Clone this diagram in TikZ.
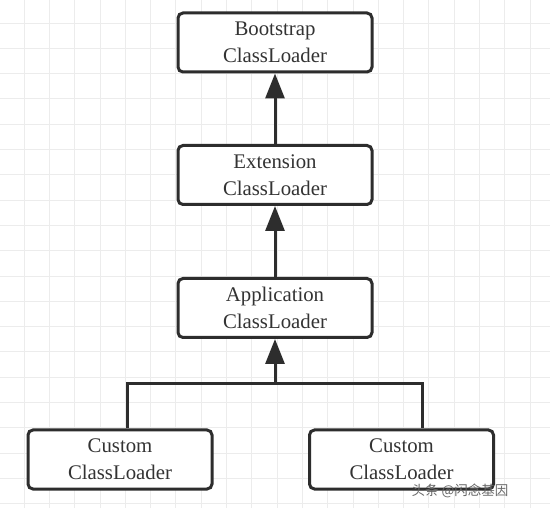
\documentclass[tikz,border=0pt]{standalone}
\usepackage{fontspec}
\setmainfont{Liberation Serif}
\newfontfamily\cjk{Noto Sans CJK SC}
\usetikzlibrary{arrows.meta,positioning}
\definecolor{gridgray}{RGB}{236,236,236}
\definecolor{linegray}{RGB}{45,45,45}

\begin{document}
\begin{tikzpicture}[x=1pt,y=-1pt,
  loader/.style={rectangle,rounded corners=5pt,draw=linegray,line width=3pt,fill=white,
    minimum width=194pt,minimum height=59pt,inner sep=0pt,align=center,
    font=\fontsize{20.8}{27}\selectfont,text=black!80},
  edge/.style={line width=3pt,draw=linegray,-{Triangle[width=19pt,length=25pt]}},
  link/.style={line width=3pt,draw=linegray}]
\useasboundingbox (0,0) rectangle (550,508);
\fill[white] (0,0) rectangle (550,508);
% background grid
\foreach \i in {0,...,21} {
  \draw[gridgray,line width=0.8pt] (-1.3+25.3*\i,0) -- (-1.3+25.3*\i,508);
}
\foreach \j in {0,...,20} {
  \draw[gridgray,line width=0.8pt] (0,-2.3+25.3*\j) -- (550,-2.3+25.3*\j);
}
\node(boot)[loader] at (275,42.5) {Bootstrap\\ClassLoader};
\node(ext)[loader] at (275,175) {Extension\\ClassLoader};
\node(app)[loader] at (275,308) {Application\\ClassLoader};
\node(cl1)[loader,minimum width=184pt] at (120,459.5) {Custom\\ClassLoader};
\node(cl2)[loader,minimum width=184pt] at (401.5,459.5) {Custom\\ClassLoader};
\coordinate(join) at (275,384);
\coordinate(j1) at (127,384);
\coordinate(j2) at (422,384);
\draw [edge] (ext) to (boot);
\draw [edge] (app) to (ext);
\draw [link] (cl1.north -| j1) -- (j1) -- (j2) -- (cl2.north -| j2);
\draw [edge] (join) to (app);
\node(mark)[font=\cjk\fontsize{13.5}{14}\selectfont,text=black!60,anchor=east] at (512,491) {头条 @闪念基因};
\end{tikzpicture}
\end{document}
